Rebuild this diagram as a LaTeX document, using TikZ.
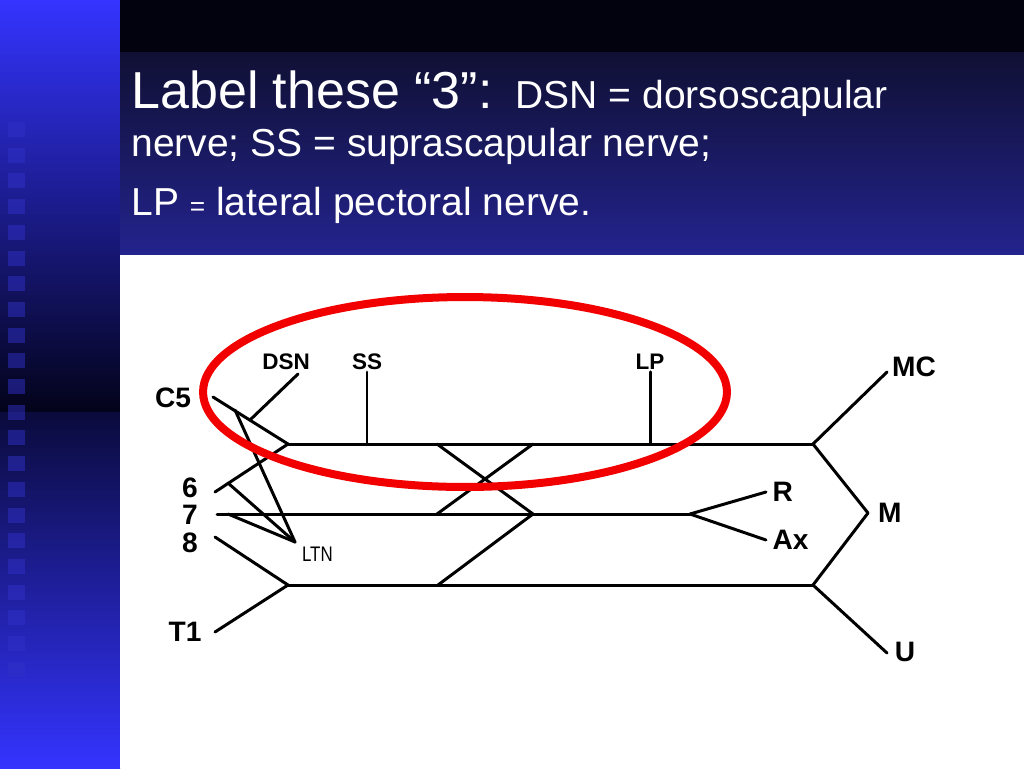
\documentclass[tikz,border=0pt]{standalone}
\usepackage{fontspec}
\usepackage{graphicx}
\setmainfont{Liberation Sans}
\usetikzlibrary{positioning}
\definecolor{stripblue}{HTML}{3434FF}
\definecolor{stripdark}{HTML}{03031A}
\definecolor{titletop}{HTML}{101034}
\definecolor{titlebot}{HTML}{23238E}
\definecolor{bandblack}{HTML}{02020E}
\definecolor{squareblue}{HTML}{3030C8}
\definecolor{circlered}{HTML}{F20000}

\begin{document}
\begin{tikzpicture}[x=0.02cm, y=-0.02cm,
    nerve/.style={line width=1.7pt, line cap=round},
    rootlbl/.style={font=\bfseries\fontsize{16}{18}\selectfont, inner sep=1pt},
    branchlbl/.style={font=\bfseries\fontsize{12.8}{14}\selectfont, inner sep=1pt},
    slidetext/.style={text=white, anchor=base west, inner sep=0pt,
                      font=\fontsize{22.2}{26}\selectfont},
]
    \useasboundingbox (0,0) rectangle (1024,768);
    % slide background
    \shade[top color=stripblue, bottom color=stripdark] (0,0) rectangle (120,412);
    \shade[top color=stripdark!85!stripblue, bottom color=stripblue] (0,412) rectangle (120,768);
    \foreach \i in {0,...,21}
        \fill[squareblue, opacity=0.5] (8,{122+25.7*\i}) rectangle +(17,15);
    \fill[bandblack] (120,0) rectangle (1024,52);
    \shade[top color=titletop, bottom color=titlebot] (120,52) rectangle (1024,255);
    \fill[white] (120,255) rectangle (1024,768);

    % title
    \node[slidetext] (line1) at (131,108)
        {{\fontsize{29.6}{34}\selectfont Label these “3”:}\hspace{0.46cm}DSN = dorsoscapular};
    \node[slidetext] (line2) at (131,156) {nerve; SS = suprascapular nerve;};
    \node[slidetext] (line3) at (131,215)
        {LP {\fontsize{15}{18}\selectfont =} lateral pectoral nerve.};

    % roots and branches
    \node[rootlbl] (c5) at (173,398) {C5};
    \node[rootlbl] (c6) at (190,488) {6};
    \node[rootlbl] (c7) at (190,515) {7};
    \node[rootlbl] (c8) at (190,543) {8};
    \node[rootlbl] (t1) at (185,632) {T1};
    \node[branchlbl] (dsn) at (286,362) {DSN};
    \node[branchlbl] (ss)  at (367,362) {SS};
    \node[branchlbl] (lp)  at (650,362) {LP};
    \node[rootlbl] (mc) at (914,367) {MC};
    \node[rootlbl] (u)  at (905,652) {U};

    \coordinate (c5tip) at (213,397);
    \coordinate (c6tip) at (215,492);
    \coordinate (c7tip) at (217,514);
    \coordinate (c8tip) at (215,537);
    \coordinate (t1tip) at (215,632);
    \coordinate (ut0) at (288,444);
    \coordinate (ut1) at (813,444);
    \coordinate (lt0) at (288,585);
    \coordinate (lt1) at (813,585);
    \coordinate (mt1) at (690,514);
    \coordinate (mjoin) at (868,513);
    \coordinate (c5b) at (235,410);
    \coordinate (c6b) at (228,483);
    \coordinate (c7b) at (228,514);
    \coordinate (ltnj) at (295,542);
    \coordinate (dsnb) at (250,420);
    \coordinate (dsntip) at (298,374);
    \coordinate (ssj) at (367,444);
    \coordinate (lpj) at (650,444);
    \coordinate (ad1) at (437,444);
    \coordinate (ad2) at (533,514);
    \coordinate (ad3) at (438,585);
    \coordinate (bd1) at (533,444);
    \coordinate (bd2) at (437,514);
    \coordinate (mctip) at (887,372);
    \coordinate (utip) at (887,653);
    \coordinate (rtip) at (766,492);
    \coordinate (axtip) at (766,540);

    \node[rootlbl, right=0.09cm of rtip] (r) {R};
    \node[rootlbl, right=0.09cm of axtip] (ax) {Ax};
    \node[rootlbl, right=0.16cm of mjoin] (m) {M};
    \node[font=\fontsize{12}{14}\selectfont, inner sep=1pt, anchor=north west] (ltn) at (300,545)
        {\scalebox{0.8}[1]{LTN}};

    \foreach \a/\b in {c5tip/ut0, c6tip/ut0, ut0/ut1, c7tip/mt1, c8tip/lt0, t1tip/lt0,
                       lt0/lt1, c5b/ltnj, c6b/ltnj, c7b/ltnj, dsnb/dsntip, ss.south/ssj,
                       lp.south/lpj, ad1/ad2, ad2/ad3, bd1/bd2, ut1/mjoin, mjoin/lt1,
                       ut1/mctip, lt1/utip, mt1/rtip, mt1/axtip}
        \draw[nerve] (\a) -- (\b);

    % highlight
    \draw[circlered, line width=0.16cm] (465,392) ellipse [x radius=5.24cm, y radius=1.9cm];
\end{tikzpicture}
\end{document}
